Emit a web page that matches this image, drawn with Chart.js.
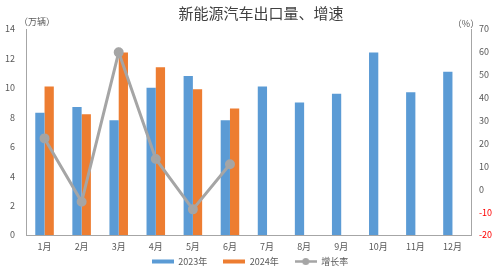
<!DOCTYPE html>
<html>
<head>
<meta charset="utf-8">
<script src="https://cdn.jsdelivr.net/npm/chart.js@4/dist/chart.umd.min.js"></script>
<style>
  html, body { margin: 0; padding: 0; background: #fff; }
  #wrap { width: 500px; height: 267px; }
</style>
</head>
<body>
<div id="wrap"><canvas id="c"></canvas></div>
<script>
// 数据
const months = ['1月', '2月', '3月', '4月', '5月', '6月', '7月', '8月', '9月', '10月', '11月', '12月'];
const export2023 = [8.3, 8.7, 7.8, 10.0, 10.8, 7.8, 10.1, 9.0, 9.6, 12.4, 9.7, 11.1];
const export2024 = [10.1, 8.2, 12.4, 11.4, 9.9, 8.6];
const growthRate = [22.2, -5.5, 59.8, 13.2, -8.8, 10.9];

const FONT = '"Noto Sans CJK SC", "Noto Sans", sans-serif';
const TXT = '#595959';

// 图例标记
function marker(color, withDot) {
    const cv = document.createElement('canvas');
    cv.width = 22; cv.height = 9;
    const g = cv.getContext('2d');
    if (withDot) {
        g.strokeStyle = color; g.lineWidth = 2.5;
        g.beginPath(); g.moveTo(0, 4.5); g.lineTo(22, 4.5); g.stroke();
        g.fillStyle = color;
        g.beginPath(); g.arc(11, 4.5, 3.5, 0, Math.PI * 2); g.fill();
    } else {
        g.fillStyle = color;
        g.fillRect(0, 2.5, 22, 4);
    }
    return cv;
}

// 图例高度固定, 间距加大后上移
const legendHeight = {
    id: 'legendHeight',
    beforeLayout(chart) {
        const lg = chart.legend;
        if (lg && !lg._patched) {
            const fit = lg.fit;
            lg.fit = function () { fit.call(this); this.height = 12; };
            lg._patched = true;
        }
    },
    afterLayout(chart) {
        if (chart.legend) chart.legend.top -= 14;
    }
};

// 标题和单位
const textPlugin = {
    id: 'texts',
    afterDraw(chart) {
        const ctx = chart.ctx;
        ctx.save();
        ctx.fillStyle = '#404040';
        ctx.font = '15px ' + FONT;
        ctx.textAlign = 'center';
        ctx.textBaseline = 'middle';
        ctx.fillText('新能源汽车出口量、增速', 261, 13);
        ctx.fillStyle = TXT;
        ctx.font = '9px ' + FONT;
        ctx.fillText('（万辆）', 37, 22);
        ctx.fillText('（%）', 466, 24);
        ctx.restore();
    }
};

const noGrid = { display: false, drawTicks: false };

new Chart(document.getElementById('c'), {
    data: {
        labels: months,
        datasets: [
            { type: 'bar', label: '2023年', data: export2023, backgroundColor: '#5B9BD5', yAxisID: 'y', order: 2 },
            { type: 'bar', label: '2024年', data: export2024, backgroundColor: '#ED7D31', yAxisID: 'y', order: 2 },
            { type: 'line', label: '增长率', data: growthRate, borderColor: '#A5A5A5', backgroundColor: '#A5A5A5',
              borderWidth: 3, pointRadius: 3.5, pointHoverRadius: 3.5, yAxisID: 'y2', order: 1, tension: 0 }
        ]
    },
    options: {
        responsive: true,
        maintainAspectRatio: false,
        animation: false,
        categoryPercentage: 0.5,
        barPercentage: 1.0,
        layout: { padding: { top: 29, left: 0, right: 0, bottom: 0 } },
        plugins: {
            title: { display: false },
            tooltip: { enabled: false },
            legend: {
                position: 'bottom',
                labels: {
                    usePointStyle: true,
                    pointStyleWidth: 22,
                    padding: 16,
                    color: TXT,
                    font: { size: 9, family: FONT },
                    generateLabels(chart) {
                        const cols = ['#5B9BD5', '#ED7D31', '#A5A5A5'];
                        return chart.data.datasets.map((ds, i) => ({
                            text: ds.label,
                            pointStyle: marker(cols[i], i === 2),
                            fontColor: TXT,
                            datasetIndex: i,
                            lineWidth: 0
                        }));
                    }
                }
            }
        },
        scales: {
            x: {
                grid: noGrid,
                border: { display: true, color: '#A6A6A6', width: 1 },
                ticks: { color: TXT, font: { size: 9, family: FONT }, padding: 6 },
                afterFit(s) { s.height = 20; }
            },
            y: {
                position: 'left',
                min: 0, max: 14,
                grid: noGrid,
                border: { display: true, color: '#A6A6A6', width: 1 },
                ticks: { stepSize: 2, color: TXT, font: { size: 9, family: FONT }, padding: 11 },
                afterFit(s) { s.width = 26; }
            },
            y2: {
                position: 'right',
                min: -20, max: 70,
                grid: noGrid,
                border: { display: true, color: '#A6A6A6', width: 1 },
                ticks: {
                    stepSize: 10,
                    font: { size: 9, family: FONT },
                    padding: 8,
                    color: c => (c.tick && c.tick.value < 0) ? '#FF0000' : TXT
                },
                afterFit(s) { s.width = 29; }
            }
        }
    },
    plugins: [legendHeight, textPlugin]
});
</script>
</body>
</html>
